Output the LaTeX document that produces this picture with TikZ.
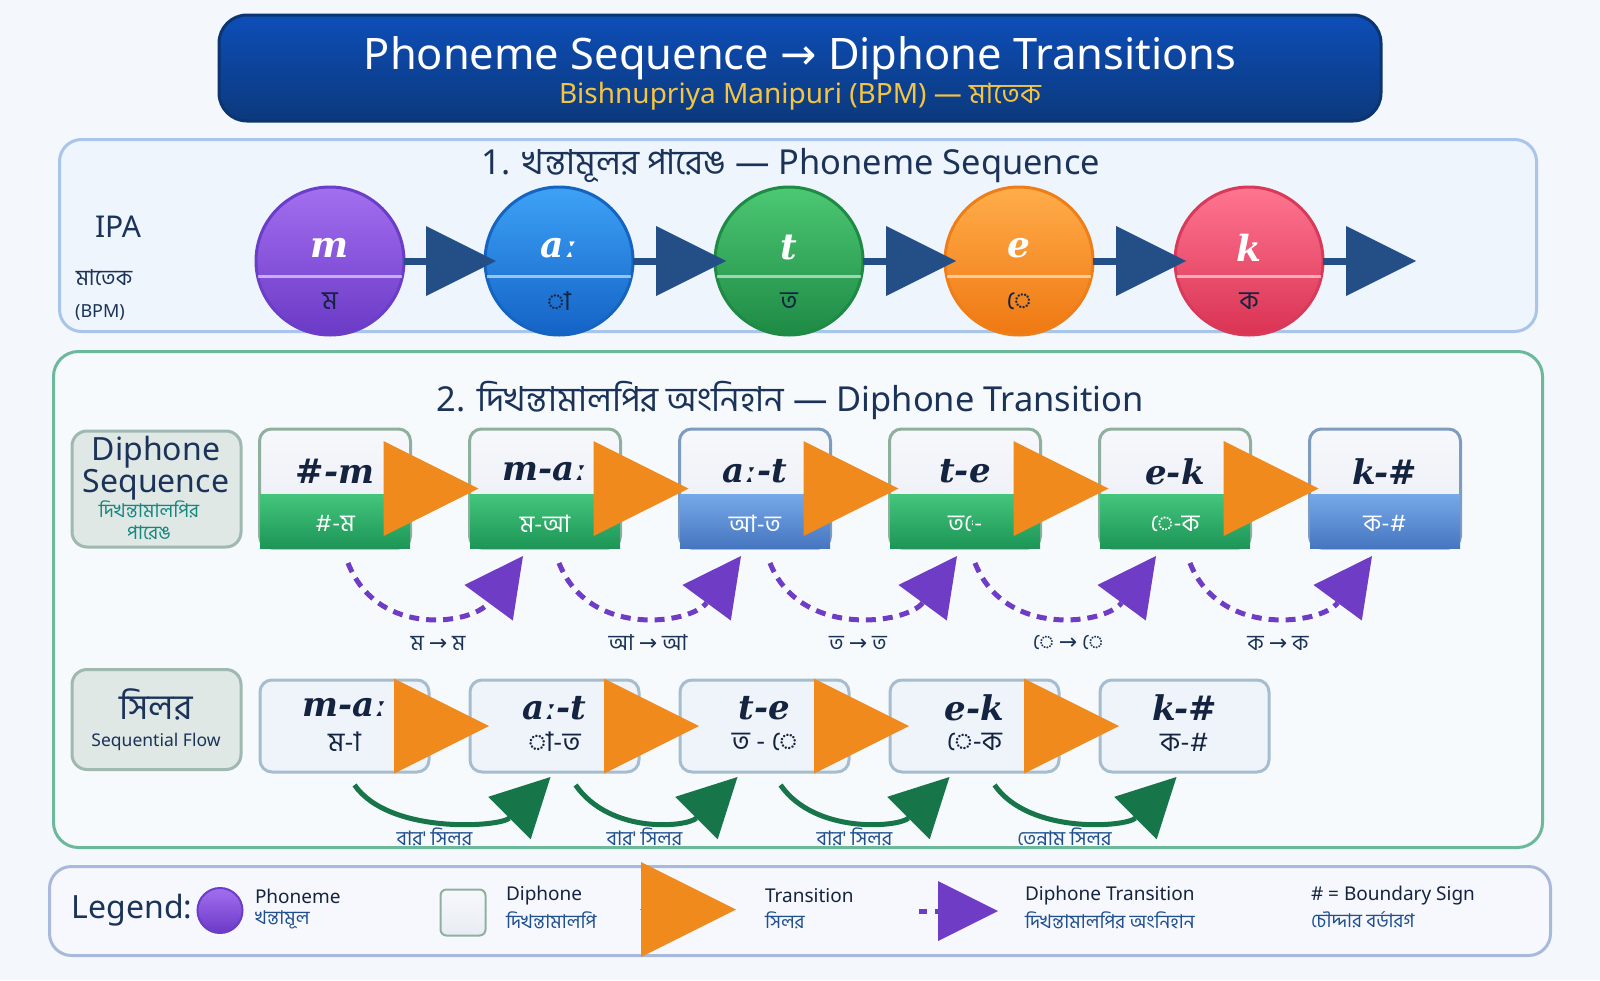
\documentclass[tikz,border=0pt]{standalone}
\usepackage{fontspec}
\setmainfont{Noto Sans}
\newfontfamily\bn[Script=Bengali]{Hind Siliguri}
\newfontfamily\ipaf{DejaVu Serif}
\newfontfamily\symf{DejaVu Sans}
\usetikzlibrary{arrows.meta,calc}
\newcommand{\fsz}[1]{\fontsize{#1}{#1}\selectfont}
\newcommand{\rarr}{{\symf →}}
\definecolor{bgc}{HTML}{F4F7FC}
\definecolor{navy}{HTML}{14233F}
\definecolor{ttl}{HTML}{1B3358}
\definecolor{bnblue}{HTML}{1F4F8F}
\definecolor{teal}{HTML}{14877F}
\definecolor{yel}{HTML}{F4C542}
\definecolor{hdT}{HTML}{0D4EB8}
\definecolor{hdB}{HTML}{0C397C}
\definecolor{hdD}{HTML}{0B3470}
\definecolor{s1f}{HTML}{EEF5FD}
\definecolor{s1d}{HTML}{A9C5E8}
\definecolor{s2f}{HTML}{F7FAFD}
\definecolor{s2d}{HTML}{6DB89B}
\definecolor{lgf}{HTML}{F6F8FD}
\definecolor{lgd}{HTML}{A9B9DC}
\definecolor{puT}{HTML}{A36FF0}
\definecolor{puB}{HTML}{6B3AC6}
\definecolor{puD}{HTML}{6A3EC8}
\definecolor{blT}{HTML}{3DA2F6}
\definecolor{blB}{HTML}{1463C6}
\definecolor{blD}{HTML}{1565C0}
\definecolor{grT}{HTML}{4CC873}
\definecolor{grB}{HTML}{1E8A45}
\definecolor{grD}{HTML}{1E8A44}
\definecolor{orT}{HTML}{FFAD4A}
\definecolor{orB}{HTML}{EF7812}
\definecolor{orD}{HTML}{EE7E18}
\definecolor{rdT}{HTML}{FF7590}
\definecolor{rdB}{HTML}{DA3354}
\definecolor{rdD}{HTML}{D83A5A}
\definecolor{arB}{HTML}{234E86}
\definecolor{orA}{HTML}{F08A1C}
\definecolor{puA}{HTML}{6F3CC6}
\definecolor{gnA}{HTML}{17754A}
\definecolor{dbT}{HTML}{F7F8FC}
\definecolor{dbB}{HTML}{E8ECF2}
\definecolor{dgT}{HTML}{43C67C}
\definecolor{dgB}{HTML}{1D9557}
\definecolor{dbluT}{HTML}{76A9E8}
\definecolor{dbluB}{HTML}{4676C0}
\definecolor{dgD}{HTML}{8FB09E}
\definecolor{dbD}{HTML}{7D9CC0}
\definecolor{sbF}{HTML}{EEF4FA}
\definecolor{sbD}{HTML}{A6BCCF}
\definecolor{lbF}{HTML}{DFE8E5}
\definecolor{lbD}{HTML}{9FB8B0}
\begin{document}
\begin{tikzpicture}[x=1pt,y=-1pt,
  every node/.style={inner sep=0pt,outer sep=0pt},
  phon/.style={circle,minimum size=148pt,line width=3pt},
  chord/.style={white,opacity=.55,line width=3pt},
  phtop/.style={font=\ipaf\bfseries\itshape\fsz{36},text=white},
  phbot/.style={font=\bn\fsz{26},text=navy},
  barrow/.style={draw=arB,line width=7pt,-{Triangle[length=70pt,width=70pt,line width=0pt]},shorten >=-11pt},
  oarrow/.style={draw=orA,line width=1pt,-{Triangle[length=95pt,width=95pt,line width=0pt]}},
  parc/.style={draw=puA,line width=5pt,dash pattern=on 10pt off 7pt,-{Triangle[length=58pt,width=60pt,line width=0pt]}},
  garc/.style={draw=gnA,line width=5pt,-{Triangle[length=58pt,width=60pt,line width=0pt]}},
  dbox/.style={draw,rounded corners=12pt,line width=3pt,minimum width=151pt,minimum height=119pt,top color=dbT,bottom color=dbB},
  gpart/.style={top color=dgT,bottom color=dgB},
  bpart/.style={top color=dbluT,bottom color=dbluB},
  dtop/.style={font=\ipaf\bfseries\itshape\fsz{34},text=navy},
  dbot/.style={font=\bn\fsz{24},text=white},
  sbox/.style={draw=sbD,fill=sbF,rounded corners=12pt,line width=3pt,minimum width=169pt,minimum height=92pt},
  sbot/.style={font=\bn\fsz{27},text=navy},
  lblbox/.style={draw=lbD,fill=lbF,rounded corners=15pt,line width=3pt,minimum width=169pt},
  seclbl/.style={font=\fsz{34.4},text=ttl},
  plbl/.style={font=\bn\fsz{22},text=ttl},
  glbl/.style={font=\bn\fsz{20},text=bnblue},
  lgA/.style={font=\fsz{19},text=navy,anchor=west},
  lgB/.style={font=\bn\fsz{19},text=bnblue,anchor=west}
]
\useasboundingbox (0,0) rectangle (1600,980);
\fill[bgc] (0,0) rectangle (1600,980);

% header
\node[draw=hdD,line width=3pt,rounded corners=28pt,top color=hdT,bottom color=hdB,minimum width=1162pt,minimum height=106pt] (hdr) at (800,68) {};
\node[font=\fsz{43.4},text=white] (hdt) at (800,58) {Phoneme Sequence \rarr{} Diphone Transitions};
\node[font=\fsz{28},text=yel] (hds) at (800,96) {Bishnupriya Manipuri (BPM) — {\bn মাতেক}};

% section 1
\node[draw=s1d,fill=s1f,line width=3pt,rounded corners=22pt,minimum width=1477pt,minimum height=192pt] (sec1) at (798,235.5) {};
\node[seclbl] (sec1t) at (791,166) {1. {\bn খন্তামূলর পারেঙ} — Phoneme Sequence};
\node[font=\fsz{30},text=ttl] (ipa) at (118,227) {IPA};
\node[font=\bn\fsz{22},text=ttl] (ipab) at (104,278) {মাতেক};
\node[font=\fsz{18},text=ttl] (ipac) at (100,312) {(BPM)};

\node[phon,draw=puD,top color=puT,bottom color=puB] (p1) at (330,261) {};
\node[phon,draw=blD,top color=blT,bottom color=blB] (p2) at (559,261) {};
\node[phon,draw=grD,top color=grT,bottom color=grB] (p3) at (789,261) {};
\node[phon,draw=orD,top color=orT,bottom color=orB] (p4) at (1019,261) {};
\node[phon,draw=rdD,top color=rdT,bottom color=rdB] (p5) at (1249,261) {};
\foreach \p/\t/\b in {p1/m/ম,p2/aː/া,p3/t/ত,p4/e/ে,p5/k/ক}{
  \draw[chord] ($(\p.center)+(-72,15)$) -- ($(\p.center)+(72,15)$);
  \node[phtop] (\p t) at ($(\p.center)+(0,-13)$) {\t};
  \node[phbot] (\p b) at ($(\p.center)+(0,40)$) {\b};
}
\coordinate (pend) at (1416,261);
\draw[barrow] (p1.east) -- (p2.west);
\draw[barrow] (p2.east) -- (p3.west);
\draw[barrow] (p3.east) -- (p4.west);
\draw[barrow] (p4.east) -- (p5.west);
\draw[barrow,shorten >=0pt] (p5.east) -- (pend);

% section 2
\node[draw=s2d,fill=s2f,line width=3pt,rounded corners=25pt,minimum width=1489pt,minimum height=496pt] (sec2) at (798,599.5) {};
\node[seclbl] (sec2t) at (790,400) {2. {\bn দিখন্তামালপির অংনিহান} — Diphone Transition};

\node[lblbox,minimum height=116pt] (lb1) at (156.5,489) {};
\node[font=\fsz{32},text=ttl] (lb1a) at (156,452) {Diphone};
\node[font=\fsz{32},text=ttl] (lb1b) at (156,485) {Sequence};
\node[font=\bn\fsz{19},text=teal] (lb1c) at (149,509) {দিখন্তামালপির};
\node[font=\bn\fsz{19},text=teal] (lb1d) at (149,533) {পারেঙ};

\node[lblbox,minimum height=100pt] (lb2) at (156.5,719.5) {};
\node[font=\bn\fsz{35},text=ttl] (lb2a) at (156,704) {সিলর};
\node[font=\fsz{17.5},text=ttl] (lb2b) at (156,742) {Sequential Flow};

% diphone row
\foreach \i/\c/\col/\part/\t/\b in {1/335/dgD/gpart/\#-m/\#-ম,2/545/dgD/gpart/m-aː/ম-আ,3/755/dbD/bpart/aː-t/আ-ত,4/965/dgD/gpart/t-e/{},5/1175/dgD/gpart/e-k/ে-ক,6/1385/dbD/bpart/k-\#/ক-\#}{
  \node[dbox,draw=\col] (d\i) at (\c,488.5) {};
  \path[\part] ($(d\i.south west)+(0.5,0)$) rectangle ($(d\i.east)+(-0.5,5.5)$);
  \node[dtop] (d\i t) at ($(d\i.center)+(0,-17)$) {\t};
  \node[dbot] (d\i b) at ($(d\i.center)+(0,35)$) {\b};
}
% "তে-" as printed: consonant, then the vowel sign, then hyphen
\node[dbot,anchor=base west] (d4b1) at ($(d4.center)+(-17,43)$) {ত};
\begin{scope}
  \clip ($(d4b1.base east)+(-0.5,-26)$) rectangle ($(d4b1.base east)+(8.5,8)$);
  \node[dbot,anchor=base west] (d4b2) at (d4b1.base east) {ে};
\end{scope}
\node[dbot,anchor=base west] (d4b3) at ($(d4b1.base east)+(10,0)$) {-};

% sequential row
\foreach \i/\c/\t/\b in {1/344.5/m-aː/ম-া,2/554.5/aː-t/া-ত,3/764.5/t-e/ত - ে,4/974.5/e-k/ে-ক,5/1184.5/k-\#/ক-\#}{
  \node[sbox] (s\i) at (\c,726) {};
  \node[dtop] (s\i t) at ($(s\i.center)+(0,-18)$) {\t};
  \node[sbot] (s\i b) at ($(s\i.center)+(0,16)$) {\b};
}

% transitions row 1
\foreach \a/\b in {1/2,2/3,3/4,4/5,5/6}{
  \draw[oarrow,shorten >=-9pt] (d\a.east) -- (d\b.west);
}
% diphone arcs
\foreach \a/\b/\so/\eo/\l in {1/2/13/-22/ম \rarr{} ম,2/3/14/-14/আ \rarr{} আ,3/4/15/-8/ত \rarr{} ত,4/5/10/-19/ে \rarr{} ে,5/6/15/-13/ক \rarr{} ক}{
  \draw[parc] ($(d\a.south)+(\so,15)$) .. controls +(30,76) and +(-50,68) .. ($(d\b.south)+(\eo,8)$);
  \node[plbl] (pl\a) at ($(d\a.south)!0.5!(d\b.south)+(-2,95)$) {\l};
}
% transitions row 2
\foreach \a/\b in {1/2,2/3,3/4,4/5}{
  \draw[oarrow,shorten >=-19pt] (s\a.east) -- (s\b.west);
}
\foreach \a/\b/\so/\eo/\l in {1/2/10/-4/বার' সিলর,2/3/21/-27/বার' সিলর,3/4/16/-25/বার' সিলর,4/5/20/-8/তেন্নাম সিলর}{
  \draw[garc] ($(s\a.south)+(\so,13)$) .. controls +(35,50) and +(-50,50) .. ($(s\b.south)+(\eo,5)$);
  \node[glbl] (gl\a) at ($(s\a.south)!0.5!(s\b.south)+(-15,65)$) {\l};
}

% legend
\node[draw=lgd,fill=lgf,line width=3pt,rounded corners=22pt,minimum width=1501pt,minimum height=89pt] (leg) at (800,911) {};
\node[font=\fsz{32},text=ttl] (legt) at (132,910) {Legend:};
\node[circle,minimum size=45pt,draw=puD,line width=2pt,top color=puT,bottom color=puB] (lgc) at (220,910.5) {};
\node[lgA] (lg1a) at (255,896) {Phoneme};
\node[lgB] (lg1b) at (255,920) {খন্তামূল};
\node[draw=dgD,line width=2pt,rounded corners=6pt,top color=dbT,bottom color=dbB,minimum width=45pt,minimum height=46pt] (lgs) at (463,912.5) {};
\node[lgA] (lg2a) at (506,896) {Diphone};
\node[lgB] (lg2b) at (506,920) {দিখন্তামালপি};
\coordinate (lo1) at (640,909.5);
\coordinate (lo2) at (736,909.5);
\draw[oarrow] (lo1) -- (lo2);
\node[lgA] (lg3a) at (765,896) {Transition};
\node[lgB] (lg3b) at (765,920) {সিলর};
\coordinate (lp1) at (919,911);
\coordinate (lp2) at (998,911);
\draw[parc,dash pattern=on 8pt off 8pt,-{Triangle[length=60pt,width=60pt,line width=0pt]}] (lp1) -- (lp2);
\node[lgA] (lg4a) at (1025,896) {Diphone Transition};
\node[lgB] (lg4b) at (1025,920) {দিখন্তামালপির অংনিহান};
\node[lgA] (lg5a) at (1311,896) {\# = Boundary Sign};
\node[lgB] (lg5b) at (1311,920) {চৌদ্দার বর্ডারগ};
\end{tikzpicture}
\end{document}
